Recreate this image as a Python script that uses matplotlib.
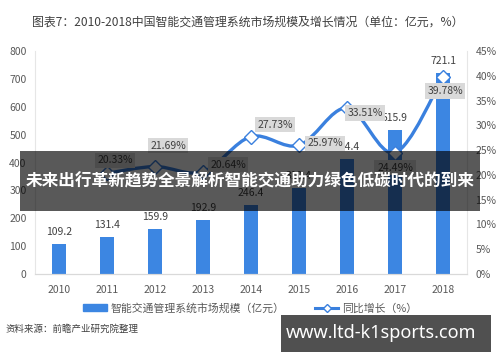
import matplotlib.pyplot as plt
from matplotlib.path import Path
from matplotlib.patches import PathPatch, Patch, Rectangle
from matplotlib.lines import Line2D

plt.rcParams['font.family'] = ['Noto Sans CJK SC', 'DejaVu Sans']

years = ['2010', '2011', '2012', '2013', '2014', '2015', '2016', '2017', '2018']
market = [109.2, 131.4, 159.9, 192.9, 246.4, 310.4, 414.4, 515.9, 721.1]
growth = [20.33, 21.69, 20.64, 27.73, 25.97, 33.51, 24.49, 39.78]  # 2011-2018
growth_labels = ['20.33%', '21.69%', '20.64%', '27.73%', '25.97%', '33.51%', '24.49%', '39.78%']
# label offsets (pixels) for the growth boxes
growth_off = [(8, 13), (13, 21), (25, 7), (24, 12), (26, 2), (18, -5), (0, -15), (2, -14)]

bar_color = '#3c86e2'
line_color = '#3a80de'
text_color = '#595959'

fig = plt.figure(figsize=(5, 3.62), dpi=100)
ax = fig.add_axes([0.07, 0.243, 0.864, 0.616])
ax2 = ax.twinx()

x = list(range(len(years)))
ax.bar(x, market, width=0.31, color=bar_color, zorder=2)
for xi, v in zip(x, market):
    ax.annotate(f'{v:.1f}', (xi, v), xytext=(0, 12), textcoords='offset pixels',
                ha='center', va='center', fontsize=7.5, color='#404040')

ax.set_xlim(-0.5, 8.5)
ax.set_ylim(0, 800)
ax.set_yticks(range(0, 801, 100))
ax.set_xticks(x)
ax.set_xticklabels(years)
ax2.set_ylim(0, 45)
ax2.set_yticks(range(0, 46, 5))
ax2.set_yticklabels([f'{t}%' for t in range(0, 46, 5)])

for a in (ax, ax2):
    a.tick_params(length=0, labelsize=7.5, colors=text_color)
    for s in a.spines.values():
        s.set_visible(False)
    a.spines['bottom'].set_visible(True)
    a.spines['bottom'].set_color('#d9d9d9')
ax.spines['left'].set_visible(True)
ax.spines['left'].set_color('#e6e6e6')
ax2.spines['right'].set_visible(True)
ax2.spines['right'].set_color('#e6e6e6')
ax.tick_params(axis='x', pad=8)
ax.tick_params(axis='y', pad=6)
ax2.tick_params(axis='y', pad=6)

# smoothed growth line (Excel-style bezier through the points)
gx = x[1:]
pts = list(zip(gx, growth))
verts = [pts[0]]
codes = [Path.MOVETO]
n = len(pts)
for i in range(n - 1):
    p0 = pts[i - 1] if i > 0 else pts[i]
    p1 = pts[i]
    p2 = pts[i + 1]
    p3 = pts[i + 2] if i + 2 < n else pts[i + 1]
    c1 = (p1[0] + (p2[0] - p0[0]) / 6, p1[1] + (p2[1] - p0[1]) / 6)
    c2 = (p2[0] - (p3[0] - p1[0]) / 6, p2[1] - (p3[1] - p1[1]) / 6)
    verts += [c1, c2, p2]
    codes += [Path.CURVE4] * 3
ax2.add_patch(PathPatch(Path(verts, codes), fill=False, edgecolor=line_color, lw=2.4, zorder=3))
ax2.plot(gx, growth, ls='none', marker='D', ms=7, mfc='white', mec=line_color, mew=1, zorder=4)
for xi, v, lab, off in zip(gx, growth, growth_labels, growth_off):
    ax2.annotate(lab, (xi, v), xytext=off, textcoords='offset pixels', ha='center', va='center',
                 fontsize=7.5, color='#404040', zorder=5,
                 bbox=dict(boxstyle='square,pad=0.25', fc='#d9d9d9', ec='none'))

fig.text(0.496, 0.940, '图表7：2010-2018中国智能交通管理系统市场规模及增长情况（单位：亿元，%）',
         ha='center', va='center', fontsize=8.6, color='#404040')

handles = [Patch(color=bar_color),
           Line2D([], [], color=line_color, lw=2.2, marker='D', ms=4, mfc='white', mec=line_color)]
fig.legend(handles, ['智能交通管理系统市场规模（亿元）', '同比增长（%）'], loc='center',
           bbox_to_anchor=(0.5, 1 - 308 / 362), ncol=2, frameon=False, fontsize=7.8,
           labelcolor=text_color, handlelength=2.2, handletextpad=0.3, columnspacing=2.8)

fig.text(0.01, 1 - 329 / 362, '资料来源：前瞻产业研究院整理', fontsize=6.8, color='#404040',
         ha='left', va='center', style='italic')
fig.text(0.97, 1 - 329 / 362, '前瞻经济学人APP', fontsize=6.5, color='#404040', ha='right', va='center')

# overlay banners
fig.patches.append(Rectangle((0.04, 0.417), 0.92, 0.166, transform=fig.transFigure,
                             fc='black', alpha=0.65, ec='none', zorder=10))
fig.text(0.5, 1 - 181 / 362, '未来出行革新趋势全景解析智能交通助力绿色低碳时代的到来',
         ha='center', va='center', fontsize=12.0, color='white', weight='bold', zorder=11)
fig.patches.append(Rectangle((0.562, 1 - 352 / 362), 0.42, 37 / 362, transform=fig.transFigure,
                             fc='#505050', ec='none', zorder=10))
fig.text(0.763, 1 - 333 / 362, 'www.ltd-k1sports.com', ha='center', va='center', fontsize=13,
         color='white', weight='bold', family=['Noto Sans', 'DejaVu Sans'], zorder=11)

fig.savefig('out.png', dpi=100)
